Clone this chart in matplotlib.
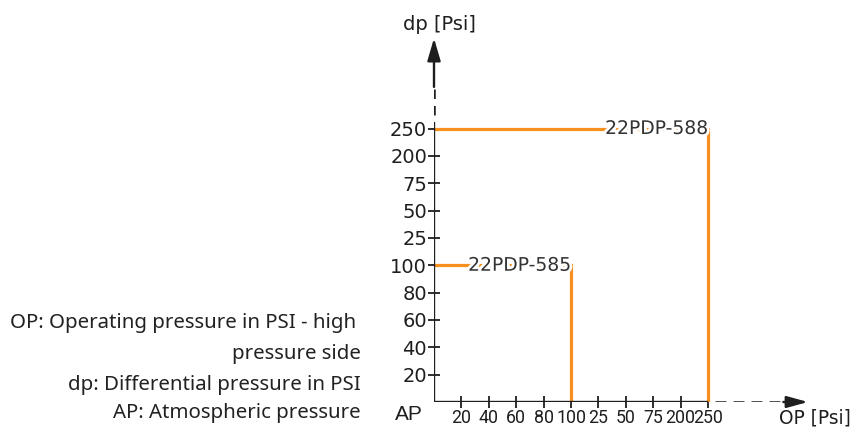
import matplotlib.pyplot as plt
import matplotlib.patheffects as pe

# tick labels of the broken pressure scales (evenly spaced on the chart)
dp_ticks = ['20', '40', '60', '80', '100', '25', '50', '75', '200', '250']
op_ticks = ['20', '40', '60', '80', '100', '25', '50', '75', '200', '250']

# switches: operating pressure limit and differential pressure limit
sensors = ['22PDP-585', '22PDP-588']
op_limits = ['100', '250']
dp_limits = ['100', '250']

notes = ['OP: Operating pressure in PSI - high ',
         'pressure side',
         'dp: Differential pressure in PSI',
         'AP: Atmospheric pressure']

W, H = 852, 433
orange = '#f7901e'
dark = '#1e1e1e'

fig = plt.figure(figsize=(W / 100, H / 100), dpi=100)
ax = fig.add_axes([434 / W, 31 / H, 383.6 / W, 382.9 / H])
ax.set_xlim(0, 14)
ax.set_ylim(0, 14)
for s in ax.spines.values():
    s.set_visible(False)

def pos(labels, v):
    return labels.index(v) + 1

# axes: solid part, dashed part, arrow
ax.plot([0, 10], [0, 0], color=dark, lw=1.7, solid_capstyle='butt', zorder=3)
ax.plot([10, 12.75], [0, 0], color=dark, lw=1.8, linestyle=(4.4, (4.4, 2.8)),
        snap=True, zorder=3)
ax.annotate('', xy=(13.65, 0), xytext=(12.75, 0),
            arrowprops=dict(arrowstyle='-|>,head_length=0.8,head_width=0.22',
                            mutation_scale=16, color=dark, lw=1.7, shrinkA=0, shrinkB=0))
ax.plot([0, 0], [0, 10.24], color=dark, lw=1.7, solid_capstyle='butt', zorder=3)
ax.plot([0, 0], [10.24, 11.52], color=dark, lw=1.8, linestyle=(3.8, (3.8, 2.8)),
        snap=True, zorder=3)
ax.annotate('', xy=(0, 13.3), xytext=(0, 11.52),
            arrowprops=dict(arrowstyle='-|>,head_length=0.85,head_width=0.25',
                            mutation_scale=16, color=dark, lw=1.7, shrinkA=0, shrinkB=0))

ax.set_xticks(range(1, len(op_ticks) + 1))
ax.set_xticklabels(op_ticks, fontsize=12.8, family='Roboto', color=dark)
ax.set_yticks(range(1, len(dp_ticks) + 1))
ax.set_yticklabels(dp_ticks, fontsize=14, color=dark)
ax.tick_params(direction='inout', length=9, width=1.3, color=dark, pad=0.5)

for name, op, dp in zip(sensors, op_limits, dp_limits):
    x = pos(op_ticks, op)
    y = pos(dp_ticks, dp)
    ax.plot([0, x, x], [y, y, 0], color=orange, lw=2.3, zorder=2,
            solid_joinstyle='miter')
    ax.text(x, y, name, ha='right', va='center', fontsize=13.5, color='#333333',
            zorder=4, path_effects=[pe.withStroke(linewidth=4, foreground='white')])

fig.text(403 / W, 1 - 25 / H, 'dp [Psi]', fontsize=14, color=dark, va='center')
fig.text(779 / W, 1 - 418 / H, 'OP [Psi]', fontsize=13.4, color=dark, va='center')
fig.text(395 / W, 1 - 415 / H, 'AP', fontsize=15, family='Liberation Sans',
         color=dark, va='center')

ys = [323, 354, 385, 413]
for t, y in zip(notes, ys):
    fig.text(361 / W, 1 - y / H, t, fontsize=14.7, family='Noto Sans',
             color='#222222', ha='right', va='center')

fig.savefig('out.png', dpi=100)
